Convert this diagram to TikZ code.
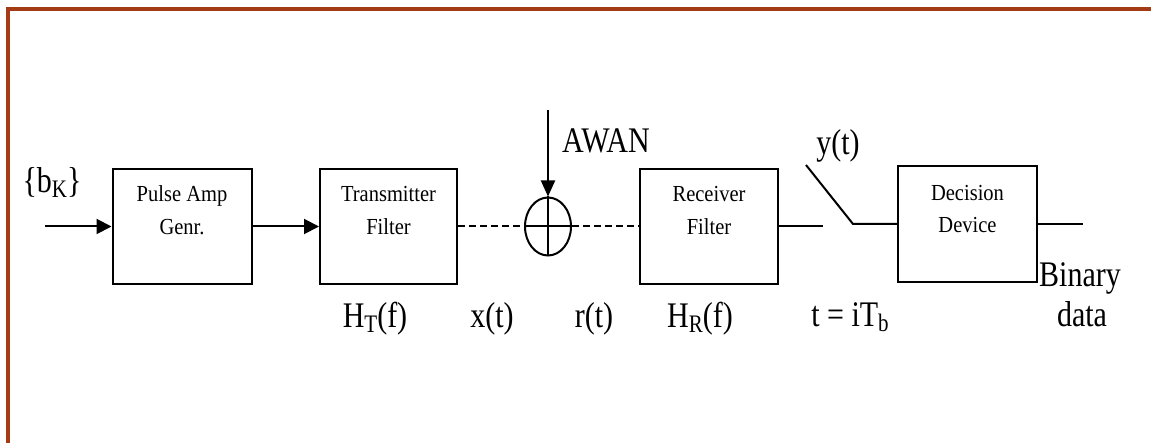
\documentclass[tikz,border=0pt]{standalone}
\usepackage{fontspec}
\setmainfont{Liberation Serif}
\usetikzlibrary{shapes.geometric,arrows.meta}
\newcommand\talltext[1]{\scalebox{1}[1.2]{#1}}
\newcommand\boxtext[1]{\scalebox{1}[1.12]{#1}}
\newcommand\lowsub[1]{\raisebox{-3.5pt}{\fontsize{21}{21}\selectfont #1}}
\definecolor{framecol}{RGB}{163,60,20}
\begin{document}
\begin{tikzpicture}[x=1pt,y=-1pt,
  blk/.style={draw,line width=2pt,inner sep=0pt},
  boxtxt/.style={font=\fontsize{20.5}{24}\selectfont,anchor=base,inner sep=0pt},
  lbl/.style={font=\fontsize{30}{36}\selectfont,anchor=base,inner sep=0pt},
  conn/.style={line width=2pt},
  arr/.style={conn,-{Triangle[length=15pt,width=15pt]}},
  dsh/.style={conn,dash pattern=on 7pt off 4pt}]
\useasboundingbox (0,0) rectangle (1151,443);
\draw[framecol,line width=3.5pt] (8,443) -- (8,9) -- (1151,9);
% blocks
\node[blk,minimum width=139pt,minimum height=115pt] (pag) at (182,226.5) {};
\node[blk,minimum width=137pt,minimum height=115pt] (tf) at (388.5,226.5) {};
\node[blk,minimum width=138pt,minimum height=115pt] (rf) at (709,226.5) {};
\node[blk,minimum width=139pt,minimum height=116pt] (dd) at (967.5,224) {};
\node[draw,line width=2pt,ellipse,inner sep=0pt,minimum width=46pt,minimum height=58pt] (sum) at (548,226.5) {};
% block texts
\node[boxtxt] (pagA) at (182,202) {\boxtext{Pulse Amp}};
\node[boxtxt] (pagB) at (182,235) {\boxtext{Genr.}};
\node[boxtxt] (tfA) at (388.5,202) {\boxtext{Transmitter}};
\node[boxtxt] (tfB) at (388.5,235) {\boxtext{Filter}};
\node[boxtxt] (rfA) at (709,202) {\boxtext{Receiver}};
\node[boxtxt] (rfB) at (709,235) {\boxtext{Filter}};
\node[boxtxt] (ddA) at (967.5,201) {\boxtext{Decision}};
\node[boxtxt] (ddB) at (967.5,233) {\boxtext{Device}};
% labels
\node[lbl] (bk) at (52,193) {\talltext{\{b\lowsub{K}\}}};
\node[lbl] (awan) at (606,153) {\talltext{AWAN}};
\node[lbl] (yt) at (838,155) {\talltext{y(t)}};
\node[lbl] (ht) at (375,328) {\talltext{H\lowsub{T}(f)}};
\node[lbl] (xt) at (492,328) {\talltext{x(t)}};
\node[lbl] (rt) at (594,328) {\talltext{r(t)}};
\node[lbl] (hr) at (700,328) {\talltext{H\lowsub{R}(f)}};
\node[lbl] (tib) at (850,327) {\talltext{t = iT\lowsub{b}}};
\node[lbl] (bin) at (1080,287) {\talltext{Binary}};
\node[lbl] (dat) at (1082,327) {\talltext{data}};
% connectors
\coordinate (in) at (45,226.5);
\draw[arr] (in) -- (pag.west);
\draw[arr] (pag.east) -- (tf.west);
\draw[dsh] (tf.east) -- (sum.west);
\draw[dsh] (sum.east) -- (rf.west);
\draw[conn] (sum.north) -- (sum.south);
\draw[conn] (sum.west) -- (sum.east);
\coordinate (nz) at (548,110);
\draw[arr,-{Triangle[length=16pt,width=14pt]}] (nz) -- (sum.north);
\coordinate (s1) at (823,226.5);
\draw[conn] (rf.east) -- (s1);
\coordinate (s2) at (806,165);
\coordinate (s3) at (853,224);
\draw[conn] (s2) -- (s3) -- (dd.west);
\coordinate (out) at (1083,224);
\draw[conn] (dd.east) -- (out);
\end{tikzpicture}
\end{document}
